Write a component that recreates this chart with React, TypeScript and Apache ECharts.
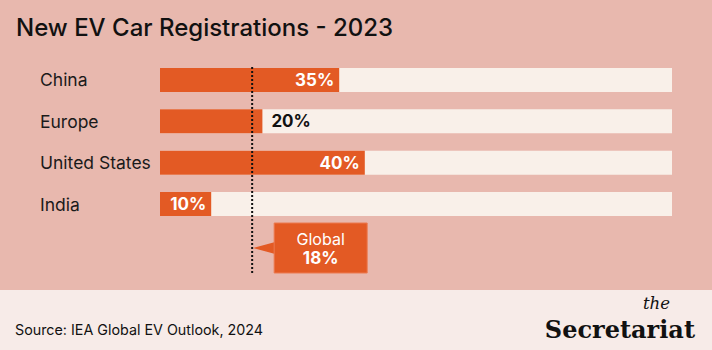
import React, { useEffect, useRef } from "react";
import * as echarts from "echarts";

const title = "New EV Car Registrations - 2023";
const categories = ["China", "Europe", "United States", "India"];
const shares = [35, 20, 40, 10];
const labelOutside = [false, true, false, false];
const globalLabel = "Global";
const globalShare = 18;
const source = "Source: IEA Global EV Outlook, 2024";

const BG = "#e8b8ae";
const TRACK = "#f9f0e9";
const ORANGE = "#e35a24";
const FOOTER = "#f7ebe8";
const FONT = "Inter";

export default function App() {
  const ref = useRef<HTMLDivElement>(null);
  useEffect(() => {
    document.body.style.margin = "0";
    const chart = echarts.init(ref.current!, null, { renderer: "svg" });
    chart.setOption({
      animation: false,
      backgroundColor: BG,
      grid: { left: 160, right: 40, top: 59.3, bottom: 125.3 },
      xAxis: { type: "value", min: 0, max: 100, show: false },
      yAxis: {
        type: "category",
        data: categories,
        inverse: true,
        axisLine: { show: false },
        axisTick: { show: false },
        splitLine: { show: false },
        axisLabel: {
          align: "left",
          margin: 120,
          fontFamily: FONT,
          fontSize: 17.5,
          color: "#1a1a1a",
        },
      },
      series: [
        {
          type: "bar",
          barWidth: 24,
          showBackground: true,
          backgroundStyle: { color: TRACK },
          itemStyle: { color: ORANGE },
          data: shares.map((v, i) => ({
            value: v,
            label: {
              show: true,
              position: labelOutside[i] ? "right" : "insideRight",
              distance: labelOutside[i] ? 9 : 5,
              color: labelOutside[i] ? "#111" : "#fff",
              fontFamily: FONT,
              fontWeight: 700,
              fontSize: 17,
              formatter: "{c}%",
            },
          })),
        },
      ],
    });
    const gx = chart.convertToPixel({ xAxisIndex: 0 }, globalShare) as number;
    const boxX = gx + 22;
    chart.setOption({
      graphic: [
        { type: "rect", shape: { x: 0, y: 290, width: 712, height: 60 }, style: { fill: FOOTER }, z: -1 },
        {
          type: "text",
          x: 16,
          y: 27,
          style: { text: title, fontFamily: FONT, fontSize: 24, fontWeight: 500, fill: "#111", verticalAlign: "middle" },
        },
        {
          type: "line",
          shape: { x1: gx, y1: 67, x2: gx, y2: 273 },
          style: { stroke: "#111", lineWidth: 2, lineDash: [2, 2] },
          z: 10,
        },
        {
          type: "polygon",
          shape: { points: [[gx + 1, 248], [boxX + 1, 242], [boxX + 1, 254]] },
          style: { fill: ORANGE },
          z: 11,
        },
        {
          type: "rect",
          shape: { x: boxX, y: 223, width: 93, height: 50 },
          style: { fill: ORANGE, stroke: "#ec7a50", lineWidth: 1 },
          z: 11,
        },
        {
          type: "text",
          x: boxX + 46.5,
          y: 239,
          style: { text: globalLabel, fontFamily: FONT, fontSize: 16, fill: "#fff", align: "center", verticalAlign: "middle" },
          z: 12,
        },
        {
          type: "text",
          x: boxX + 46.5,
          y: 258,
          style: { text: globalShare + "%", fontFamily: FONT, fontSize: 17, fontWeight: 700, fill: "#fff", align: "center", verticalAlign: "middle" },
          z: 12,
        },
        {
          type: "text",
          x: 15,
          y: 329,
          style: { text: source, fontFamily: FONT, fontSize: 14.3, fill: "#111", verticalAlign: "middle" },
        },
        {
          type: "text",
          x: 670,
          y: 303.5,
          style: { text: "the", fontFamily: "DejaVu Serif", fontStyle: "italic", fontSize: 16.5, fill: "#111", align: "right", verticalAlign: "middle" },
        },
        {
          type: "text",
          x: 695,
          y: 329,
          style: { text: "Secretariat", fontFamily: "DejaVu Serif", fontWeight: 700, fontSize: 24, fill: "#111", align: "right", verticalAlign: "middle" },
        },
      ],
    });
    return () => chart.dispose();
  }, []);
  return <div ref={ref} style={{ width: 712, height: 350 }} />;
}
